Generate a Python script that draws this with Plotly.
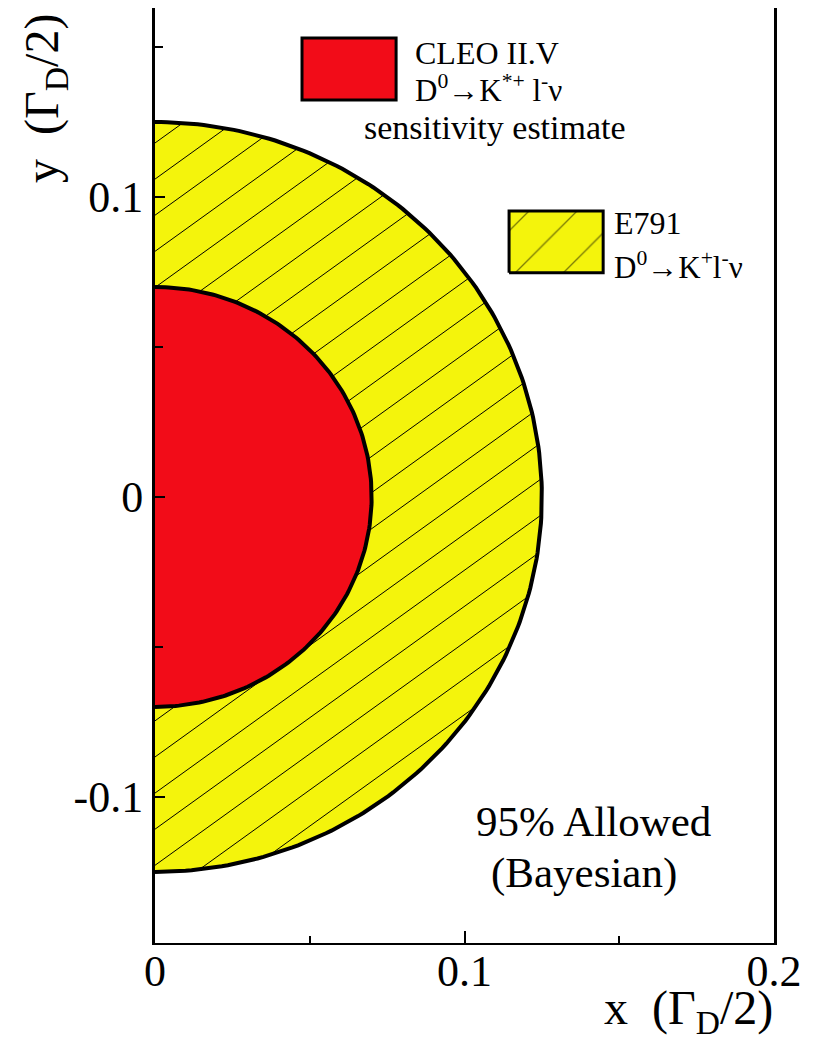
import numpy as np
import plotly.graph_objects as go

# contour radii (units of Gamma_D/2)
r_e791 = 0.125      # E791, D0 -> K+ l nu, 95% allowed
r_cleo = 0.070      # CLEO II.V sensitivity estimate

x_ticks = [0, 0.1, 0.2]
x_ticktext = ["0", "0.1", "0.2"]
y_ticks = [-0.1, 0, 0.1]
y_ticktext = ["-0.1", "0", "0.1"]

FONT = "Liberation Serif"
RED = "#f20c18"
YELLOW = "#f4f40c"

# hatch style for the E791 region
HATCH_SLOPE = 0.743
HATCH_STEP = 0.01204
HATCH_C0 = 0.118


def half_disc(r, n=200):
    t = np.linspace(-np.pi / 2, np.pi / 2, n)
    return r * np.cos(t), r * np.sin(t)


def hatch_lines(r, slope, step, c0):
    xs, ys = [], []
    a = 1 + slope ** 2
    for k in range(-20, 40):
        c = c0 - k * step
        b = 2 * slope * c
        d = b * b - 4 * a * (c * c - r * r)
        if d <= 0:
            continue
        x1 = (-b - np.sqrt(d)) / (2 * a)
        x2 = (-b + np.sqrt(d)) / (2 * a)
        x1 = max(x1, 0.0)
        if x2 <= x1:
            continue
        xs += [x1, x2, None]
        ys += [slope * x1 + c, slope * x2 + c, None]
    return xs, ys


fig = go.Figure()

xo, yo = half_disc(r_e791)
fig.add_trace(go.Scatter(x=xo, y=yo, mode="lines", fill="toself", fillcolor=YELLOW,
                         line=dict(color="black", width=1), hoverinfo="skip"))
hx, hy = hatch_lines(r_e791 - 0.0005, HATCH_SLOPE, HATCH_STEP, HATCH_C0)
fig.add_trace(go.Scatter(x=hx, y=hy, mode="lines", line=dict(color="black", width=1),
                         hoverinfo="skip"))
fig.add_trace(go.Scatter(x=xo, y=yo, mode="lines", line=dict(color="black", width=4),
                         hoverinfo="skip"))

xi, yi = half_disc(r_cleo)
fig.add_trace(go.Scatter(x=xi, y=yi, mode="lines", fill="toself", fillcolor=RED,
                         line=dict(color="black", width=4), hoverinfo="skip"))

# legend boxes
fig.add_shape(type="rect", xref="x", yref="y", x0=0.0475, x1=0.0779, y0=0.1323, y1=0.153,
              fillcolor=RED, line=dict(color="black", width=3))
fig.add_trace(go.Scatter(x=[0.1144, 0.1448, 0.1448, 0.1144, 0.1144],
                         y=[0.0747, 0.0747, 0.0953, 0.0953, 0.0747],
                         mode="lines", fill="toself", fillcolor=YELLOW,
                         fillpattern=dict(shape="/", fgcolor="black", bgcolor=YELLOW,
                                          size=34, solidity=0.04),
                         line=dict(color="black", width=3), hoverinfo="skip"))

notes = [
    (0.0834, 0.1480, "CLEO II.V", "left", 32),
    (0.0834, 0.1363, "D<sup>0</sup>→K<sup>*+</sup> l<sup>-</sup>ν", "left", 31),
    (0.1100, 0.1230, "sensitivity estimate", "center", 34),
    (0.1477, 0.0913, "E791", "left", 32),
    (0.1477, 0.0773, "D<sup>0</sup>→K<sup>+</sup>l<sup>-</sup>ν", "left", 31),
    (0.1418, -0.1083, "95% Allowed", "center", 43),
    (0.1386, -0.1253, "(Bayesian)", "center", 43),
]
for x, y, t, anc, sz in notes:
    fig.add_annotation(x=x, y=y, xref="x", yref="y", text=t, showarrow=False,
                       xanchor=anc, yanchor="middle",
                       font=dict(family=FONT, size=sz, color="black"))

fig.add_annotation(x=1.002, y=-0.073, xref="paper", yref="paper",
                   text="x  (Γ<sub>D</sub>/2)", showarrow=False,
                   xanchor="right", yanchor="middle",
                   font=dict(family=FONT, size=48, color="black"))
fig.add_annotation(x=-0.179, y=0.903, xref="paper", yref="paper",
                   text="y  (Γ<sub>D</sub>/2)", showarrow=False, textangle=-90,
                   xanchor="center", yanchor="middle",
                   font=dict(family=FONT, size=48, color="black"))

# page body keeps an 8px margin, so the figure is 8px smaller than the window
fig.update_layout(
    width=809, height=1035,
    margin=dict(l=147, r=43, t=0, b=100),
    paper_bgcolor="white", plot_bgcolor="white",
    showlegend=False,
    font=dict(family=FONT, color="black"),
)
fig.update_xaxes(range=[0, 0.2], showgrid=False, zeroline=False, automargin=False,
                 showline=True, linecolor="black", linewidth=2, mirror=True,
                 tickmode="array", tickvals=x_ticks, ticktext=x_ticktext,
                 ticks="inside", ticklen=12, tickwidth=2, tickcolor="black",
                 ticklabelstandoff=-12,
                 minor=dict(tickmode="linear", tick0=0, dtick=0.05, ticks="inside",
                            ticklen=7, tickwidth=2, tickcolor="black"),
                 tickfont=dict(family=FONT, size=44, color="black"))
fig.update_yaxes(range=[-0.1487, 0.163], showgrid=False, zeroline=False, automargin=False,
                 showline=True, linecolor="black", linewidth=3, mirror=True,
                 tickmode="array", tickvals=y_ticks, ticktext=y_ticktext,
                 ticks="inside", ticklen=10, tickwidth=2, tickcolor="black",
                 minor=dict(tickmode="linear", tick0=0, dtick=0.05, ticks="inside",
                            ticklen=8, tickwidth=2, tickcolor="black"),
                 tickfont=dict(family=FONT, size=44, color="black"))

fig.write_html("out.html")
